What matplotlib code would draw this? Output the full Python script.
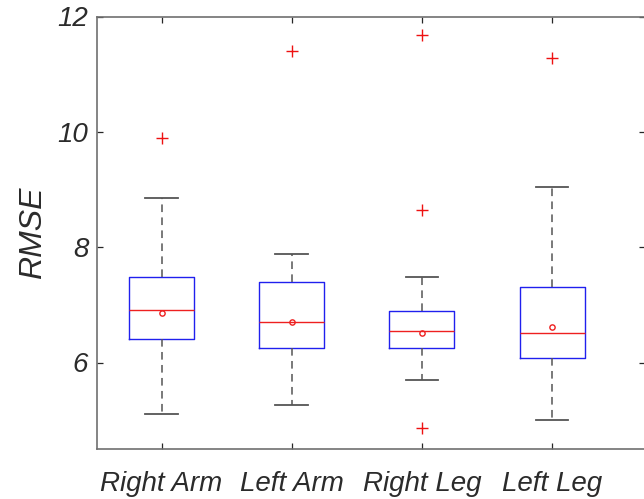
import matplotlib
matplotlib.use("Agg")
import matplotlib.pyplot as plt

categories = ["Right Arm", "Left Arm", "Right Leg", "Left Leg"]
q1 = [6.40, 6.25, 6.26, 6.08]
medians = [6.91, 6.70, 6.55, 6.51]
q3 = [7.49, 7.39, 6.90, 7.31]
whisker_low = [5.10, 5.26, 5.70, 5.00]
whisker_high = [8.86, 7.89, 7.49, 9.04]
means = [6.85, 6.70, 6.52, 6.62]
outliers = [[9.90], [11.40], [11.68, 8.65, 4.86], [11.28]]
yticks = [6, 8, 10, 12]

plt.rcParams['font.family'] = ['Liberation Sans', 'DejaVu Sans']
text_color = '#2b2b2b'

fig = plt.figure(figsize=(6.44, 4.99), dpi=100)
W, H = 644, 499
left, right, top, bottom = 96.5, 644.5, 16.5, 449
ax = fig.add_axes([left / W, (H - bottom) / H, (right - left) / W, (bottom - top) / H])

stats = []
for i, c in enumerate(categories):
    stats.append(dict(label=c, q1=q1[i], med=medians[i], q3=q3[i],
                      whislo=whisker_low[i], whishi=whisker_high[i],
                      mean=means[i], fliers=outliers[i]))

positions = list(range(1, len(categories) + 1))
ax.bxp(stats, positions=positions, widths=0.5, showmeans=True,
       boxprops=dict(color='#2020ee', linewidth=1.0),
       medianprops=dict(color='#ee2020', linewidth=1.0),
       whiskerprops=dict(color='#555555', linewidth=1.1, linestyle=(0, (5, 3.5))),
       capprops=dict(color='#555555', linewidth=1.3),
       capwidths=0.25,
       flierprops=dict(marker='+', markeredgecolor='#ee1111', markersize=8,
                       markeredgewidth=1.0, linestyle='none'),
       meanprops=dict(marker='o', markerfacecolor='none', markeredgecolor='#ee2020',
                      markersize=3.8, markeredgewidth=1.0))

ax.set_xlim(0.5, 4.71)
ax.set_ylim(4.5, 12)
ax.set_yticks(yticks)
ax.set_yticklabels([str(v) for v in yticks])
ax.set_xticks(positions)
ax.set_xticklabels(categories)

for s in ['left', 'bottom', 'top', 'right']:
    ax.spines[s].set_color('#707070')
    ax.spines[s].set_linewidth(1.2)
ax.spines['right'].set_visible(False)

ax.tick_params(direction='in', length=4, width=0.9, color='#262626',
               top=True, right=True, labelsize=20, labelcolor=text_color)
ax.tick_params(axis='x', pad=16)
ax.tick_params(axis='y', pad=6)
for lab in ax.get_xticklabels() + ax.get_yticklabels():
    lab.set_style('italic')

ax.set_ylabel('RMSE', fontsize=23, style='italic', color=text_color, labelpad=7)

fig.savefig('out.png', dpi=100)
